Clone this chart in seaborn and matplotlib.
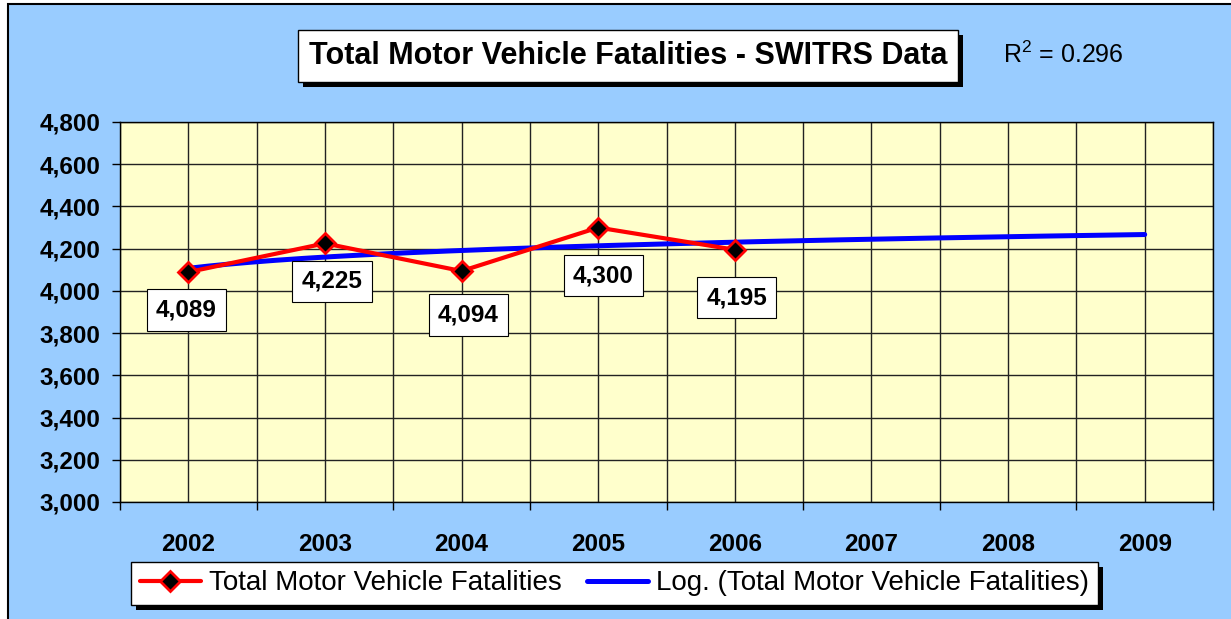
import numpy as np
import pandas as pd
import matplotlib
matplotlib.use("Agg")
import matplotlib.pyplot as plt
import matplotlib.patheffects as pe
from matplotlib.patches import Rectangle
from matplotlib.lines import Line2D
from matplotlib.ticker import FuncFormatter, MultipleLocator, FixedLocator
import seaborn as sns

# ---- data ----
years = ["2002", "2003", "2004", "2005", "2006", "2007", "2008", "2009"]
obs_years = ["2002", "2003", "2004", "2005", "2006"]
fatalities = [4089, 4225, 4094, 4300, 4195]
r2_text = "0.296"
title = "Total Motor Vehicle Fatalities - SWITRS Data"
series_name = "Total Motor Vehicle Fatalities"
trend_name = "Log. (Total Motor Vehicle Fatalities)"
# label offsets (pixels, x right / y down) relative to each point
label_dx = [-2, 7, 7, 5, 2]
label_dy = [38, 38, 44, 48, 48]

sns.set_theme(style="white")
plt.rcParams["font.family"] = ["Liberation Sans", "DejaVu Sans"]
plt.rcParams["mathtext.fontset"] = "custom"
plt.rcParams["mathtext.rm"] = "Liberation Sans"
plt.rcParams["mathtext.it"] = "Liberation Sans:italic"
plt.rcParams["mathtext.bf"] = "Liberation Sans:bold"
plt.rcParams["text.color"] = "black"
plt.rcParams["xtick.color"] = "black"
plt.rcParams["ytick.color"] = "black"
plt.rcParams["axes.labelcolor"] = "black"

W, H = 1231, 619
fig = plt.figure(figsize=(W / 100, H / 100), dpi=100, facecolor="white")
fig.patches.append(Rectangle((8 / W, -0.05), 1.2, 1 - 4 / H + 0.05, transform=fig.transFigure,
                             facecolor="#99CCFF", edgecolor="black", lw=1.5, zorder=-10))

ax = fig.add_axes([120 / W, 1 - 502 / H, (1213 - 120) / W, (502 - 122) / H])
ax.set_facecolor("#FFFFCC")

pos = {y: i for i, y in enumerate(years)}
df = pd.DataFrame({"pos": [pos[y] for y in obs_years], "value": fatalities})

# logarithmic trend fit (as Excel does) over index 1..n
t = np.arange(1, len(fatalities) + 1)
a, b = np.polyfit(np.log(t), np.array(fatalities, float), 1)
tt = np.linspace(1, len(years), 200)
trend = pd.DataFrame({"pos": tt - 1, "value": a * np.log(tt) + b})

sns.lineplot(data=trend, x="pos", y="value", ax=ax, color="#0000FF", lw=3.6, zorder=3)
sns.lineplot(data=df, x="pos", y="value", ax=ax, color="#FF0000", lw=3, marker="D",
             markersize=10, markerfacecolor="black", markeredgecolor="#FF0000",
             markeredgewidth=2, zorder=4)

ax.set_xlim(-0.5, len(years) - 0.5)
ax.set_ylim(3000, 4800)
ax.yaxis.set_major_locator(MultipleLocator(200))
ax.yaxis.set_major_formatter(FuncFormatter(lambda v, p: f"{int(v):,}"))
ax.xaxis.set_major_locator(FixedLocator(range(len(years))))
ax.set_xticklabels(years)
ax.xaxis.set_minor_locator(FixedLocator(np.arange(-0.5, len(years), 1.0)))
ax.tick_params(axis="x", which="major", length=0, pad=22, labelsize=17.5, labelcolor="black")
ax.tick_params(axis="x", which="minor", length=6, width=1, color="black", direction="out", bottom=True)
ax.tick_params(axis="y", which="major", length=6, width=1, color="black", direction="out", left=True,
               pad=8, labelsize=17.5, labelcolor="black")
for lab in ax.get_xticklabels() + ax.get_yticklabels():
    lab.set_fontweight("bold")
ax.grid(True, which="both", axis="x", color="#222222", lw=1)
ax.grid(True, which="major", axis="y", color="#222222", lw=1)
ax.set_axisbelow(True)
for s in ax.spines.values():
    s.set_visible(True)
    s.set_color("black")
    s.set_linewidth(1)
ax.set_xlabel("")
ax.set_ylabel("")
if ax.get_legend():
    ax.get_legend().remove()

# data labels
for i, (y, v) in enumerate(zip(obs_years, fatalities)):
    ax.annotate(f"{v:,}", (pos[y], v), xytext=(label_dx[i], -label_dy[i]), textcoords="offset pixels",
                ha="center", va="center", fontsize=17.5, fontweight="bold", color="black", zorder=6,
                bbox=dict(boxstyle="square,pad=0.38", fc="white", ec="black", lw=0.8))

# title with shadowed box
tt_ = fig.text(628 / W, 1 - 56 / H, title, ha="center", va="center", fontsize=22, fontweight="bold",
               color="black", bbox=dict(boxstyle="square,pad=0.35", fc="white", ec="black", lw=1))
tt_.get_bbox_patch().set_path_effects([pe.SimplePatchShadow(offset=(3.6, -3.6), shadow_rgbFace="black", alpha=1),
                                       pe.Normal()])
fig.text(1063 / W, 1 - 55 / H, r"R$^2$ = " + r2_text, ha="center", va="center", fontsize=18, color="black")

# legend
h1 = Line2D([], [], color="#FF0000", lw=3, marker="D", markersize=10, markerfacecolor="black",
            markeredgecolor="#FF0000", markeredgewidth=2)
h2 = Line2D([], [], color="#0000FF", lw=3.6)
leg = fig.legend([h1, h2], [series_name, trend_name], loc="center", bbox_to_anchor=(614.5 / W, 1 - 583.5 / H),
                 ncol=2, fontsize=20, frameon=True, fancybox=False, edgecolor="black", framealpha=1,
                 handlelength=2.2, handletextpad=0.3, columnspacing=0.9, borderpad=0.3, labelcolor="black")
leg.get_frame().set_linewidth(1)
leg.get_frame().set_path_effects([pe.SimplePatchShadow(offset=(3.6, -3.6), shadow_rgbFace="black", alpha=1),
                                  pe.Normal()])

fig.savefig("out.png", dpi=100, facecolor=fig.get_facecolor())
